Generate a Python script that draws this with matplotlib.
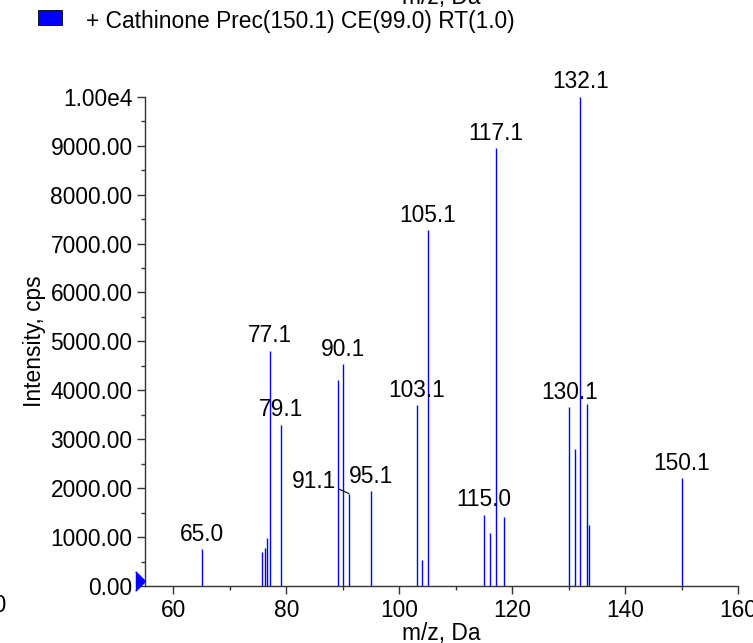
import matplotlib
matplotlib.use("Agg")
import matplotlib.pyplot as plt
from matplotlib.ticker import FixedLocator, FixedFormatter, MultipleLocator
from matplotlib.patches import Rectangle

plt.rcParams['font.family'] = ['Liberation Sans', 'DejaVu Sans']

# ---- data ----
mz = [65.0, 75.8, 76.3, 76.6, 77.1, 79.1, 89.1, 90.1, 91.1, 95.1,
      103.1, 104.1, 105.1, 115.0, 116.1, 117.1, 118.5,
      130.1, 131.2, 132.1, 133.2, 133.7, 150.1]
intensity = [750, 700, 775, 980, 4810, 3300, 4220, 4530, 1890, 1940,
             3700, 540, 7270, 1460, 1090, 8950, 1410,
             3650, 2800, 10000, 3730, 1245, 2200]
labeled_mz = ["65.0", "77.1", "79.1", "90.1", "91.1", "95.1", "103.1", "105.1",
              "115.0", "117.1", "130.1", "132.1", "150.1"]
y_ticks = [0, 1000, 2000, 3000, 4000, 5000, 6000, 7000, 8000, 9000, 10000]
y_tick_labels = ["0.00", "1000.00", "2000.00", "3000.00", "4000.00", "5000.00",
                 "6000.00", "7000.00", "8000.00", "9000.00", "1.00e4"]
x_ticks = [60, 80, 100, 120, 140, 160]
legend_text = "+ Cathinone Prec(150.1) CE(99.0) RT(1.0)"
x_label = "m/z, Da"
y_label = "Intensity, cps"

FS = 16.4
fig = plt.figure(figsize=(7.53, 6.43), dpi=100)
ax = fig.add_axes([0.1926, 0.0886, 0.9801 - 0.1926, 0.8496 - 0.0886])

ax.vlines(mz, 0, intensity, colors='#0000ff', linewidth=1.0)

ax.set_xlim(55, 160)
ax.set_ylim(0, 10000)
for s in ['top', 'right']:
    ax.spines[s].set_visible(False)
for s in ['left', 'bottom']:
    ax.spines[s].set_color('#333333')
    ax.spines[s].set_linewidth(1.0)

ax.xaxis.set_major_locator(FixedLocator(x_ticks))
ax.xaxis.set_minor_locator(MultipleLocator(10))
ax.yaxis.set_major_locator(FixedLocator(y_ticks))
ax.yaxis.set_major_formatter(FixedFormatter(y_tick_labels))
ax.yaxis.set_minor_locator(MultipleLocator(500))
ax.tick_params(which='major', length=6, width=1.0, color='#333333', labelsize=FS, pad=3)
ax.tick_params(which='minor', length=3, width=1.0, color='#333333')

ax.set_xlabel(x_label, fontsize=FS, labelpad=0)
ax.set_ylabel(y_label, fontsize=FS, labelpad=3.5)

# peak labels
for m, h in zip(mz, intensity):
    lab = f"{m:.1f}"
    if lab not in labeled_mz:
        continue
    if lab == "91.1":
        ax.annotate(lab, xy=(m, h), xytext=(-9, 9), textcoords='offset points',
                    ha='right', va='center', fontsize=FS,
                    arrowprops=dict(arrowstyle='-', color='black', lw=0.8,
                                    shrinkA=0, shrinkB=0, relpos=(1.0, 0.2)))
    else:
        ax.annotate(lab, xy=(m, h), xytext=(0, 2.5), textcoords='offset points',
                    ha='center', va='bottom', fontsize=FS, clip_on=False)

# precursor marker at the axis
ax.plot([55], [100], marker=[(-1, 1), (0, 0), (-1, -1)], markersize=14,
        color='#0000ff', clip_on=False, zorder=5)

# legend-like header
fig.patches.append(Rectangle((0.0505, 0.961), 0.0319, 0.0233, transform=fig.transFigure,
                             facecolor='#0000ff', edgecolor='black', linewidth=0.6))
fig.text(0.1142, 0.9658, legend_text, fontsize=FS, va='center', ha='left')
# clipped remnant of neighbouring panel's x label
fig.text(0.5863, 0.9938, x_label, fontsize=FS, va='baseline', ha='center')
# clipped remnant of a tick label at the left edge
fig.text(0.0093, 0.0586, "40", fontsize=FS, va='center', ha='right')

fig.savefig("out.png", dpi=100)
